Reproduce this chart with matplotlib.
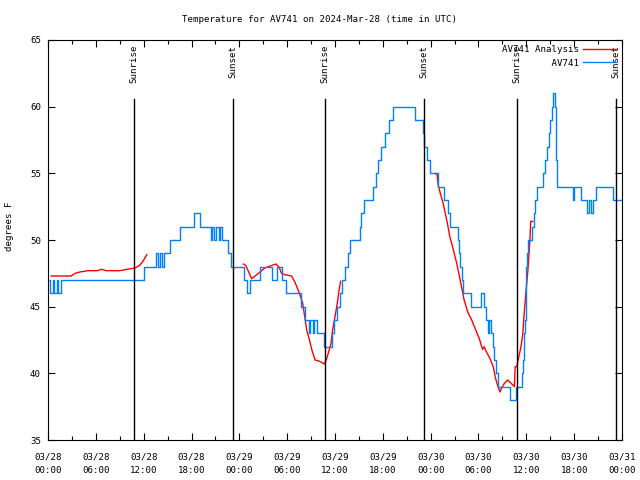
import matplotlib
matplotlib.use("Agg")
import matplotlib.pyplot as plt
from matplotlib.ticker import MultipleLocator

# hours since 2024-03-28 00:00 UTC
obs_hours = [0.0, 0.3, 0.6, 0.8, 1.1, 1.3, 1.6, 12.0, 13.5, 13.8, 14.0, 14.3, 14.5,
             15.3, 16.6, 18.3, 19.1, 20.4, 20.6, 20.8, 21.1, 21.4, 21.6, 21.8, 22.6,
             23.0, 24.6, 25.0, 25.3, 26.6, 28.1, 28.7, 29.4, 29.9, 31.7, 32.2, 32.7,
             32.9, 33.3, 33.4, 33.7, 34.6, 35.6, 35.9, 36.2, 36.6, 36.9, 37.3, 37.6,
             37.9, 39.1, 39.3, 39.7, 40.8, 41.1, 41.4, 41.8, 42.3, 42.8, 43.3, 46.0,
             47.0, 47.2, 47.6, 47.9, 48.9, 49.7, 50.2, 50.4, 51.4, 51.6, 51.7, 51.9,
             52.0, 53.1, 54.3, 54.7, 54.9, 55.2, 55.3, 55.6, 55.8, 56.0, 56.2, 56.4,
             57.9, 58.7, 59.4, 59.6, 59.7, 59.8, 59.9, 60.0, 60.1, 60.2, 60.7, 60.9,
             61.1, 61.4, 62.1, 62.3, 62.6, 62.8, 63.0, 63.2, 63.4, 63.6, 63.75, 63.8,
             63.9, 65.8, 66.0, 66.8, 67.6, 67.8, 68.1, 68.3, 68.8, 70.9, 72.0]
obs_temp = [47, 46, 47, 46, 47, 46, 47, 48, 49, 48, 49, 48, 49,
            50, 51, 52, 51, 50, 51, 50, 51, 50, 51, 50, 49,
            48, 47, 46, 47, 48, 47, 48, 47, 46, 45, 44, 43,
            44, 43, 44, 43, 42, 43, 44, 45, 46, 47, 48, 49,
            50, 51, 52, 53, 54, 55, 56, 57, 58, 59, 60, 59,
            58, 57, 56, 55, 54, 53, 52, 51, 50, 49, 48, 47,
            46, 45, 46, 45, 44, 43, 44, 43, 42, 41, 40, 39,
            38, 39, 40, 41, 43, 44, 46, 48, 49, 50, 51, 52,
            53, 54, 55, 56, 57, 58, 59, 60, 61, 60, 56, 55,
            54, 53, 54, 53, 52, 53, 52, 53, 54, 53, 53]

# analysis comes in three pieces
ana1_hours = [0.4, 2.9, 3.4, 4.0, 5.0, 6.2, 6.7, 7.3, 9.0, 9.9, 10.9, 11.5, 11.9, 12.4]
ana1_temp = [47.3, 47.3, 47.5, 47.6, 47.7, 47.7, 47.8, 47.7, 47.7, 47.8, 47.9, 48.1, 48.4, 48.9]

ana2_hours = [24.5, 24.8, 25.55, 26.6, 27.2, 27.85, 28.6, 29.0, 29.3, 29.7, 30.55, 31.0,
              31.5, 31.95, 32.2, 32.45, 32.8, 33.1, 33.5, 34.1, 34.65, 34.9, 35.2, 35.5,
              35.7, 36.0, 36.3, 36.5, 36.7]
ana2_temp = [48.2, 48.1, 47.1, 47.6, 47.9, 48.05, 48.2, 47.95, 47.5, 47.4, 47.3, 46.8,
             46.05, 45.25, 44.25, 43.25, 42.5, 41.75, 41.0, 40.9, 40.7, 41.0, 41.6, 42.25,
             43.25, 44.25, 45.3, 46.2, 46.9]

ana3_hours = [48.55, 48.8, 48.95, 49.25, 49.5, 49.8, 50.1, 50.4, 50.7, 50.95, 51.25, 51.6,
              51.9, 52.2, 52.65, 53.15, 53.65, 54.1, 54.5, 54.7, 55.0, 55.45, 55.85, 56.15,
              56.5, 56.7, 56.9, 57.25, 57.65, 58.1, 58.5, 58.6, 58.8, 59.0, 59.3, 59.55,
              59.7, 59.9, 60.2, 60.45, 60.55, 60.8]
ana3_temp = [55.0, 54.9, 54.1, 53.4, 52.9, 52.1, 51.25, 50.25, 49.6, 49.0, 48.3, 47.3,
             46.4, 45.5, 44.6, 44.0, 43.25, 42.6, 41.8, 42.0, 41.6, 41.1, 40.5, 39.6,
             38.9, 38.6, 38.9, 39.25, 39.5, 39.25, 39.0, 40.5, 40.5, 41.1, 41.9, 42.9,
             44.25, 45.75, 47.75, 50.0, 51.4, 51.4]

sun_hours = [10.8, 23.2, 34.75, 47.17, 58.83, 71.25]
sun_names = ["Sunrise", "Sunset", "Sunrise", "Sunset", "Sunrise", "Sunset"]

tick_hours = [0, 6, 12, 18, 24, 30, 36, 42, 48, 54, 60, 66, 72]
tick_labels = ["03/28\n00:00", "03/28\n06:00", "03/28\n12:00", "03/28\n18:00",
               "03/29\n00:00", "03/29\n06:00", "03/29\n12:00", "03/29\n18:00",
               "03/30\n00:00", "03/30\n06:00", "03/30\n12:00", "03/30\n18:00",
               "03/31\n00:00"]

FONT = "DejaVu Sans Mono"
FS = 6.6
plt.rcParams["font.family"] = FONT
plt.rcParams["font.size"] = FS

fig = plt.figure(figsize=(6.4, 4.8), dpi=100)
ax = fig.add_axes([48 / 640, 40 / 480, 574 / 640, 400 / 480])

ax.plot(ana1_hours, ana1_temp, color="#ff0000", lw=1.0, label="AV741 Analysis")
ax.plot(ana2_hours, ana2_temp, color="#ff0000", lw=1.0)
ax.plot(ana3_hours, ana3_temp, color="#ff0000", lw=1.0)
ax.plot(obs_hours, obs_temp, color="#0080ff", lw=1.0, drawstyle="steps-post",
        label="         AV741")

trans = ax.get_xaxis_transform()
for h, name in zip(sun_hours, sun_names):
    ax.axvline(h, ymin=0, ymax=0.8525, color="black", lw=1.0)
    ax.text(h, 0.9875, name, rotation=90, ha="center", va="top", transform=trans,
            fontsize=FS)

ax.set_xlim(0, 72)
ax.set_ylim(35, 65)
ax.set_xticks(tick_hours)
ax.set_xticklabels(tick_labels, linespacing=1.6)
ax.xaxis.set_minor_locator(MultipleLocator(3))
ax.set_yticks([35, 40, 45, 50, 55, 60, 65])
ax.tick_params(which="both", direction="in", top=True, right=True, width=0.8)
ax.tick_params(which="major", length=5)
ax.tick_params(axis="x", which="major", pad=9)
ax.tick_params(axis="y", which="major", pad=5)
ax.tick_params(which="minor", length=3)
for s in ax.spines.values():
    s.set_linewidth(0.8)

ax.legend(loc="upper right", frameon=False, markerfirst=False, fontsize=FS,
          handlelength=3.6, handletextpad=0.5, borderaxespad=0.2, labelspacing=0.45)

fig.text(0.5, 1 - 20 / 480, "Temperature for AV741 on 2024-Mar-28 (time in UTC)",
         ha="center", va="center", fontsize=FS)
fig.text(10 / 640, 1 - 226 / 480, "degrees F", rotation=90, ha="center", va="center",
         fontsize=FS)

fig.savefig("out.png", dpi=100)
